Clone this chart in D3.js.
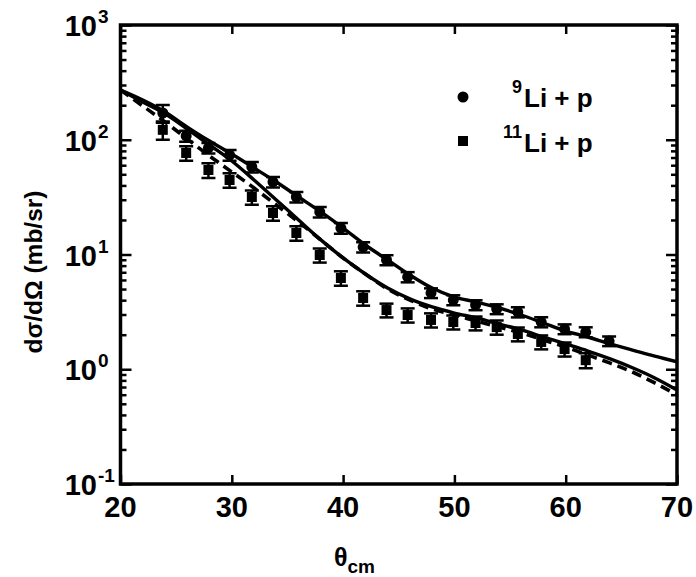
<!DOCTYPE html>
<html><head><meta charset="utf-8">
<script src="https://cdn.jsdelivr.net/npm/d3@7"></script>
<style>body{margin:0;background:#fff}</style>
</head><body><svg id="c" width="696" height="577"></svg>
<script>
// ---- data ----
const angles = [23.8, 25.9, 27.9, 29.8, 31.8, 33.7, 35.8, 37.9, 39.8, 41.8, 43.9, 45.8, 47.9, 49.9, 51.9, 53.8, 55.7, 57.8, 59.9, 61.8, 63.9];
const li9 = [171, 108, 84.8, 73.6, 57.9, 42.9, 31.7, 23.5, 17.0, 11.6, 8.96, 6.37, 4.62, 4.01, 3.63, 3.35, 3.15, 2.58, 2.24, 2.11, 1.76];
const li9Err = [30, 12, 9, 8, 6, 4.5, 3.3, 2.5, 1.8, 1.2, 0.9, 0.65, 0.45, 0.4, 0.36, 0.33, 0.32, 0.26, 0.22, 0.21, 0.17];
const li11 = [122, 76.7, 54.5, 44.6, 31.7, 23.0, 15.4, 9.9, 6.24, 4.18, 3.28, 2.97, 2.69, 2.58, 2.53, 2.33, 2.03, 1.73, 1.50, 1.20];
const li11Err = [22, 11, 8, 6.5, 4.5, 3.3, 2.2, 1.4, 0.9, 0.6, 0.45, 0.42, 0.38, 0.36, 0.35, 0.33, 0.28, 0.24, 0.21, 0.18];
const fitTheta = [20, 22, 24, 26, 28, 30, 32, 34, 36, 38, 40, 42, 44, 46, 48, 50, 52, 54, 56, 58, 60, 62, 64, 66, 68, 70];
const fit9 = [271, 222, 175, 129, 97.5, 75.1, 56.7, 42.8, 31.7, 23.5, 17.0, 12.1, 8.96, 6.63, 5.10, 4.26, 3.85, 3.42, 2.97, 2.53, 2.15, 1.91, 1.66, 1.47, 1.30, 1.16];
const fit11 = [271, 213, 168, 124, 90, 65.3, 44.6, 29.9, 20.0, 13.4, 9.33, 6.76, 5.10, 4.10, 3.49, 3.09, 2.80, 2.48, 2.20, 1.91, 1.66, 1.44, 1.23, 1.03, 0.84, 0.66];
const fit11Dash = [271, 197, 143, 101.5, 72.2, 52.4, 38.0, 27.0, 19.2, 13.4, 9.33, 6.76, 5.00, 4.01, 3.35, 2.97, 2.63, 2.33, 2.07, 1.80, 1.56, 1.33, 1.13, 0.946, 0.76, 0.597];
const xTicks = [20, 30, 40, 50, 60, 70];
const yExponents = [-1, 0, 1, 2, 3];
const legendLabels = [{sup: "9", txt: "Li + p"}, {sup: "11", txt: "Li + p"}];

// ---- layout ----
const svg = d3.select("#c");
const FONT = "'Liberation Sans', Arial, Helvetica, sans-serif";
const L = 120.5, R = 677, T = 25, B = 484;
const x = d3.scaleLinear().domain([20, 70]).range([L, R]);
const y = d3.scaleLog().domain([0.1, 1000]).range([B, T]);

svg.append("rect").attr("width", 696).attr("height", 577).attr("fill", "#fff");

// minor & major log ticks
const majors = yExponents.map(e => Math.pow(10, e));
const minors = [];
yExponents.slice(0, -1).forEach(e => { for (let k = 2; k <= 9; k++) minors.push(k * Math.pow(10, e)); });

function styleAxis(g) {
  g.select(".domain").remove();
  g.selectAll("line").attr("stroke", "#000").attr("stroke-width", 2.5);
  g.selectAll("text").remove();
}
svg.append("g").attr("transform", `translate(${L},0)`).call(d3.axisLeft(y).tickValues(majors).tickSize(-11)).call(styleAxis);
svg.append("g").attr("transform", `translate(${L},0)`).call(d3.axisLeft(y).tickValues(minors).tickSize(-6)).call(styleAxis);
svg.append("g").attr("transform", `translate(${R},0)`).call(d3.axisRight(y).tickValues(majors).tickSize(-11)).call(styleAxis);
svg.append("g").attr("transform", `translate(${R},0)`).call(d3.axisRight(y).tickValues(minors).tickSize(-6)).call(styleAxis);
svg.append("g").attr("transform", `translate(0,${B})`).call(d3.axisBottom(x).tickValues(xTicks).tickSize(-9)).call(styleAxis);
svg.append("g").attr("transform", `translate(0,${T})`).call(d3.axisTop(x).tickValues(xTicks).tickSize(-9)).call(styleAxis);

// frame
svg.append("rect").attr("x", L).attr("y", T).attr("width", R - L).attr("height", B - T)
  .attr("fill", "none").attr("stroke", "#000").attr("stroke-width", 3.5);

// tick labels
svg.append("g").selectAll("text").data(xTicks).join("text")
  .attr("x", d => x(d)).attr("y", 517).attr("text-anchor", "middle")
  .attr("font-family", FONT).attr("font-weight", "bold").attr("font-size", 29).text(d => d);
const yl = svg.append("g");
yExponents.forEach(e => {
  const yy = y(Math.pow(10, e)) + 11;
  yl.append("text").attr("x", 97).attr("y", yy).attr("text-anchor", "end")
    .attr("font-family", FONT).attr("font-weight", "bold").attr("font-size", 29).text("10");
  yl.append("text").attr("x", 98).attr("y", yy - 13).attr("text-anchor", "start")
    .attr("font-family", FONT).attr("font-weight", "bold").attr("font-size", 19).text(e < 0 ? "-" + (-e) : e);
});

// axis titles
const xt = svg.append("text").attr("x", 334).attr("y", 566).attr("font-family", FONT).attr("font-weight", "bold").attr("font-size", 25);
xt.append("tspan").text("θ");
xt.append("tspan").attr("dy", 7).attr("font-size", 19).text("cm");
svg.append("text").attr("transform", "translate(42,272) rotate(-90)").attr("text-anchor", "middle")
  .attr("font-family", FONT).attr("font-weight", "bold").attr("font-size", 24.5).text("dσ/dΩ (mb/sr)");

// curves
const line = d3.line().x(d => x(d[0])).y(d => y(d[1])).curve(d3.curveMonotoneX);
svg.append("clipPath").attr("id", "pc").append("rect").attr("x", L).attr("y", T).attr("width", R - L).attr("height", B - T);
const plot = svg.append("g").attr("clip-path", "url(#pc)");
plot.append("path").attr("d", line(fitTheta.map((t, i) => [t, fit9[i]])))
  .attr("fill", "none").attr("stroke", "#000").attr("stroke-width", 3.4);
plot.append("path").attr("d", line(fitTheta.map((t, i) => [t, fit11[i]])))
  .attr("fill", "none").attr("stroke", "#000").attr("stroke-width", 3.4);
plot.append("path").attr("d", line(fitTheta.map((t, i) => [t, fit11Dash[i]])))
  .attr("fill", "none").attr("stroke", "#000").attr("stroke-width", 3.6).attr("stroke-dasharray", "10,6");

// error bars + markers
function errBars(vals, errs, cap) {
  const g = plot.append("g").attr("stroke", "#000").attr("stroke-width", 2.5);
  vals.forEach((v, i) => {
    const cx = x(angles[i]), y1 = y(v + errs[i]), y0 = y(v - errs[i]);
    g.append("line").attr("x1", cx).attr("x2", cx).attr("y1", y1).attr("y2", y0);
    g.append("line").attr("x1", cx - cap).attr("x2", cx + cap).attr("y1", y1).attr("y2", y1);
    g.append("line").attr("x1", cx - cap).attr("x2", cx + cap).attr("y1", y0).attr("y2", y0);
  });
}
errBars(li9, li9Err, 7);
errBars(li11, li11Err, 7);
plot.append("g").selectAll("circle").data(li9).join("circle")
  .attr("cx", (d, i) => x(angles[i])).attr("cy", d => y(d)).attr("r", 5.5).attr("fill", "#000");
plot.append("g").selectAll("rect").data(li11).join("rect")
  .attr("x", (d, i) => x(angles[i]) - 5).attr("y", d => y(d) - 5).attr("width", 10).attr("height", 10).attr("fill", "#000");

// legend
svg.append("circle").attr("cx", 463).attr("cy", 97).attr("r", 5.5).attr("fill", "#000");
svg.append("rect").attr("x", 458).attr("y", 136).attr("width", 10).attr("height", 10).attr("fill", "#000");
[[524, 107], [524, 152]].forEach((p, i) => {
  svg.append("text").attr("x", p[0] - 2).attr("y", p[1] - 14).attr("text-anchor", "end")
    .attr("font-family", FONT).attr("font-weight", "bold").attr("font-size", 18).text(legendLabels[i].sup);
  svg.append("text").attr("x", p[0]).attr("y", p[1])
    .attr("font-family", FONT).attr("font-weight", "bold").attr("font-size", 26).text(legendLabels[i].txt);
});
</script></body></html>
